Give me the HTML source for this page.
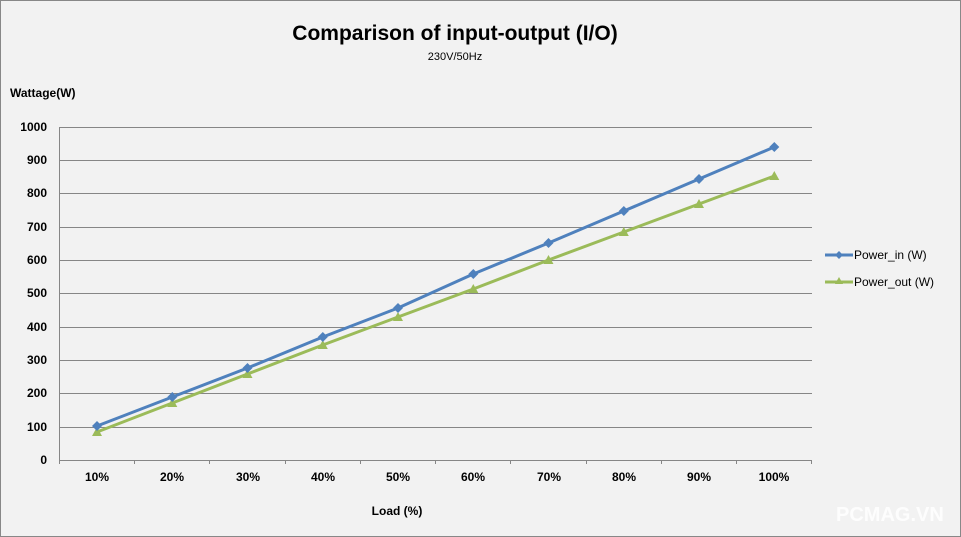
<!DOCTYPE html>
<html><head><meta charset="utf-8"><style>
html,body{margin:0;padding:0;background:#f2f2f2;}
svg{display:block;font-family:"Liberation Sans",sans-serif;}
</style></head><body>
<svg width="961" height="537" viewBox="0 0 961 537" xmlns="http://www.w3.org/2000/svg">
<rect x="0.5" y="0.5" width="960" height="536" fill="#f2f2f2" stroke="#888" stroke-width="1"/>
<text x="455" y="40" text-anchor="middle" font-size="21" font-weight="bold" fill="#000">Comparison of input-output (I/O)</text>
<text x="455" y="60" text-anchor="middle" font-size="11" fill="#000">230V/50Hz</text>
<text x="10" y="97" font-size="12" font-weight="bold" fill="#000">Wattage(W)</text>
<g stroke="#868686" stroke-width="1">
<line x1="59" y1="127.5" x2="812" y2="127.5"/>
<line x1="59" y1="160.5" x2="812" y2="160.5"/>
<line x1="59" y1="193.5" x2="812" y2="193.5"/>
<line x1="59" y1="227.5" x2="812" y2="227.5"/>
<line x1="59" y1="260.5" x2="812" y2="260.5"/>
<line x1="59" y1="293.5" x2="812" y2="293.5"/>
<line x1="59" y1="327.5" x2="812" y2="327.5"/>
<line x1="59" y1="360.5" x2="812" y2="360.5"/>
<line x1="59" y1="393.5" x2="812" y2="393.5"/>
<line x1="59" y1="427.5" x2="812" y2="427.5"/>
<line x1="59" y1="460.5" x2="812" y2="460.5"/>
<line x1="59.5" y1="127" x2="59.5" y2="464"/>
<line x1="134.5" y1="460" x2="134.5" y2="464"/>
<line x1="209.5" y1="460" x2="209.5" y2="464"/>
<line x1="285.5" y1="460" x2="285.5" y2="464"/>
<line x1="360.5" y1="460" x2="360.5" y2="464"/>
<line x1="435.5" y1="460" x2="435.5" y2="464"/>
<line x1="510.5" y1="460" x2="510.5" y2="464"/>
<line x1="586.5" y1="460" x2="586.5" y2="464"/>
<line x1="661.5" y1="460" x2="661.5" y2="464"/>
<line x1="736.5" y1="460" x2="736.5" y2="464"/>
<line x1="811.5" y1="460" x2="811.5" y2="464"/>
</g>
<g font-size="12" font-weight="bold" fill="#000" text-anchor="end">
<text x="47" y="131">1000</text><text x="47" y="164">900</text><text x="47" y="197">800</text>
<text x="47" y="231">700</text><text x="47" y="264">600</text><text x="47" y="297">500</text>
<text x="47" y="331">400</text><text x="47" y="364">300</text><text x="47" y="397">200</text>
<text x="47" y="431">100</text><text x="47" y="464">0</text>
</g>
<g font-size="12" font-weight="bold" fill="#000" text-anchor="middle">
<text x="97" y="481">10%</text><text x="172" y="481">20%</text><text x="248" y="481">30%</text>
<text x="323" y="481">40%</text><text x="398" y="481">50%</text><text x="473" y="481">60%</text>
<text x="549" y="481">70%</text><text x="624" y="481">80%</text><text x="699" y="481">90%</text>
<text x="774" y="481">100%</text>
<text x="397" y="515">Load (%)</text>
</g>
<polyline fill="none" stroke="#9bbb59" stroke-width="3" points="97,432 172.3,403 247.5,374 322.8,345 398,317 473.3,289 548.5,260 623.8,232 699,204 774.3,176"/>
<g fill="#9bbb59">
<polygon points="97,427 102,436 92,436"/><polygon points="172.3,398 177.3,407 167.3,407"/>
<polygon points="247.5,369 252.5,378 242.5,378"/><polygon points="322.8,340 327.8,349 317.8,349"/>
<polygon points="398,312 403,321 393,321"/><polygon points="473.3,284 478.3,293 468.3,293"/>
<polygon points="548.5,255 553.5,264 543.5,264"/><polygon points="623.8,227 628.8,236 618.8,236"/>
<polygon points="699,199 704,208 694,208"/><polygon points="774.3,171 779.3,180 769.3,180"/>
</g>
<polyline fill="none" stroke="#4f81bd" stroke-width="3" points="97,426 172.3,397 247.5,368 322.8,337 398,308 473.3,274 548.5,243 623.8,211 699,179 774.3,147"/>
<g fill="#4f81bd">
<polygon points="97,421 102,426 97,431 92,426"/><polygon points="172.3,392 177.3,397 172.3,402 167.3,397"/>
<polygon points="247.5,363 252.5,368 247.5,373 242.5,368"/><polygon points="322.8,332 327.8,337 322.8,342 317.8,337"/>
<polygon points="398,303 403,308 398,313 393,308"/><polygon points="473.3,269 478.3,274 473.3,279 468.3,274"/>
<polygon points="548.5,238 553.5,243 548.5,248 543.5,243"/><polygon points="623.8,206 628.8,211 623.8,216 618.8,211"/>
<polygon points="699,174 704,179 699,184 694,179"/><polygon points="774.3,142 779.3,147 774.3,152 769.3,147"/>
</g>
<line x1="825" y1="255" x2="853" y2="255" stroke="#4f81bd" stroke-width="3"/>
<polygon points="839,251 843,255 839,259 835,255" fill="#4f81bd"/>
<text x="854" y="259" font-size="12" fill="#000">Power_in (W)</text>
<line x1="825" y1="282" x2="853" y2="282" stroke="#9bbb59" stroke-width="3"/>
<polygon points="839,277 843,284 835,284" fill="#9bbb59"/>
<text x="854" y="286" font-size="12" fill="#000">Power_out (W)</text>
<text x="836" y="521" font-size="20" font-weight="bold" fill="#ffffff" opacity="0.85">PCMAG.VN</text>
</svg>
</body></html>
